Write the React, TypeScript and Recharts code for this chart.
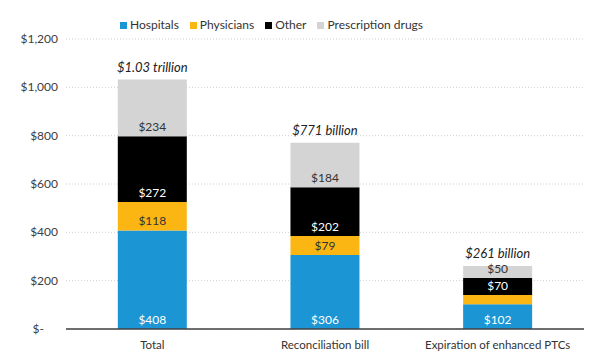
import { BarChart, Bar, XAxis, YAxis, CartesianGrid, LabelList } from 'recharts';

const categories = ['Total', 'Reconciliation bill', 'Expiration of enhanced PTCs'];
const hospitals = [408, 306, 102];
const physicians = [118, 79, 39];
const other = [272, 202, 70];
const drugs = [234, 184, 50];
const totalLabels = ['$1.03 trillion', '$771 billion', '$261 billion'];
const yTicks = [0, 200, 400, 600, 800, 1000, 1200];

const SERIES = [
  { key: 'hospitals', name: 'Hospitals', color: '#1b95d3', text: '#ffffff' },
  { key: 'physicians', name: 'Physicians', color: '#fcb614', text: '#333333' },
  { key: 'other', name: 'Other', color: '#000000', text: '#ffffff' },
  { key: 'drugs', name: 'Prescription drugs', color: '#d4d4d4', text: '#333333' },
];

const data = categories.map((name, i) => ({
  name,
  hospitals: hospitals[i],
  physicians: physicians[i],
  other: other[i],
  drugs: drugs[i],
  totalLabel: totalLabels[i],
}));

const FONT = 'Lato, "Open Sans", sans-serif';

function YTick({ x, y, payload }: any) {
  const v = payload.value;
  const label = v === 0 ? '$-' : `$${v.toLocaleString('en-US')}`;
  return (
    <text x={v === 0 ? x - 14 : x} y={y} dy={4} textAnchor="end" fontSize={12} fill="#404040" fontFamily={FONT}>
      {label}
    </text>
  );
}

// total above each stack, no wrapping
function TotalLabel({ x, y, width, value }: any) {
  return (
    <text x={x + width / 2} y={y - 8} textAnchor="middle" fontSize={13} fill="#222" fontStyle="italic" fontFamily={FONT}>
      {value}
    </text>
  );
}

export default function App() {
  return (
    <div style={{ position: 'absolute', left: 0, top: 0, width: 590, height: 356, background: '#fff' }}>
      <div
        style={{
          position: 'absolute', top: 17, left: 0, width: 543, display: 'flex', justifyContent: 'center',
          gap: 11, fontFamily: FONT, fontSize: 12, color: '#333', lineHeight: '16px',
        }}
      >
        {SERIES.map((s) => (
          <div key={s.key} style={{ display: 'flex', alignItems: 'center' }}>
            <span style={{ width: 7, height: 7, background: s.color, display: 'inline-block', marginRight: 3 }} />
            {s.name}
          </div>
        ))}
      </div>
      <BarChart width={590} height={356} data={data} margin={{ top: 39, right: 6, bottom: 0, left: 0 }} barCategoryGap="30%">
        <CartesianGrid vertical={false} stroke="#d0d0d0" strokeDasharray="1 2" />
        <XAxis
          dataKey="name"
          height={27}
          tickLine={false}
          axisLine={{ stroke: '#404040', strokeWidth: 1.5 }}
          tick={{ fontSize: 11.5, fill: '#333', fontFamily: FONT }}
          tickMargin={6}
        />
        <YAxis
          width={66}
          domain={[0, 1200]}
          ticks={yTicks}
          axisLine={false}
          tickLine={false}
          tick={<YTick />}
        />
        {SERIES.map((s, idx) => (
          <Bar key={s.key} dataKey={s.key} name={s.name} stackId="a" fill={s.color} isAnimationActive={false}>
            <LabelList
              dataKey={s.key}
              position="insideBottom"
              offset={5}
              formatter={(v: any) => (v < 45 ? '' : `$${v}`)}
              style={{ fontSize: 12, fill: s.text, fontFamily: FONT }}
            />
            {idx === SERIES.length - 1 && <LabelList dataKey="totalLabel" content={<TotalLabel />} />}
          </Bar>
        ))}
      </BarChart>
    </div>
  );
}
